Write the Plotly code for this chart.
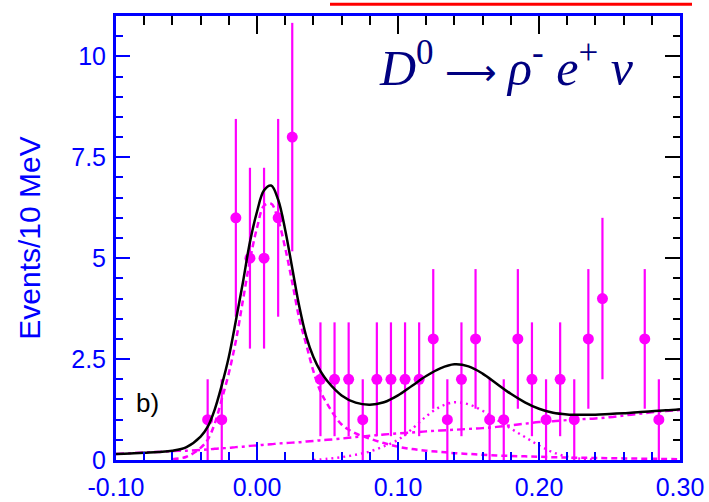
import plotly.graph_objects as go

# ---- data ----
bin_centers = [-0.035, -0.025, -0.015, -0.005, 0.005, 0.015, 0.025, 0.045, 0.055, 0.065,
               0.075, 0.085, 0.095, 0.105, 0.115, 0.125, 0.135, 0.145, 0.155, 0.165,
               0.175, 0.185, 0.195, 0.205, 0.215, 0.225, 0.235, 0.245, 0.275, 0.285]
counts = [1, 1, 6, 5, 5, 6, 8, 2, 2, 2,
          1, 2, 2, 2, 2, 3, 1, 2, 3, 1,
          1, 3, 2, 1, 2, 1, 3, 4, 3, 1]
count_errors = [1.0, 1.0, 2.45, 2.24, 2.24, 2.45, 2.83, 1.41, 1.41, 1.41,
                1.0, 1.41, 1.41, 1.41, 1.41, 1.73, 1.0, 1.41, 1.73, 1.0,
                1.0, 1.73, 1.41, 1.0, 1.41, 1.0, 1.73, 2.0, 1.73, 1.0]

fit_x = [-0.10, -0.09, -0.08, -0.07, -0.06, -0.05, -0.04, -0.035, -0.03, -0.025,
         -0.02, -0.015, -0.01, -0.005, 0.0, 0.005, 0.01, 0.015, 0.02, 0.025,
         0.03, 0.035, 0.04, 0.045, 0.05, 0.06, 0.07, 0.08, 0.09, 0.10,
         0.11, 0.12, 0.13, 0.14, 0.15, 0.16, 0.17, 0.18, 0.19, 0.20,
         0.21, 0.22, 0.23, 0.24, 0.25, 0.26, 0.27, 0.28, 0.29, 0.30]
fit_total = [0.15, 0.16, 0.18, 0.20, 0.23, 0.32, 0.58, 0.82, 1.25, 1.85,
             2.55, 3.45, 4.40, 5.40, 6.15, 6.68, 6.80, 6.45, 5.70, 4.75,
             3.80, 3.05, 2.55, 2.20, 1.95, 1.60, 1.42, 1.37, 1.43, 1.60,
             1.84, 2.08, 2.27, 2.37, 2.32, 2.14, 1.89, 1.64, 1.43, 1.27,
             1.17, 1.13, 1.12, 1.12, 1.14, 1.16, 1.18, 1.21, 1.23, 1.26]
fit_background = [0.15, 0.17, 0.19, 0.20, 0.22, 0.23, 0.25, 0.26, 0.28, 0.29,
                  0.30, 0.32, 0.33, 0.35, 0.36, 0.38, 0.39, 0.41, 0.42, 0.43,
                  0.44, 0.46, 0.47, 0.49, 0.50, 0.53, 0.57, 0.60, 0.63, 0.66,
                  0.68, 0.71, 0.73, 0.75, 0.77, 0.79, 0.82, 0.86, 0.90, 0.94,
                  0.96, 0.99, 1.01, 1.03, 1.06, 1.10, 1.14, 1.18, 1.21, 1.24]

signal_x = [-0.06, -0.05, -0.04, -0.035, -0.03, -0.025, -0.02, -0.015, -0.01, -0.005,
            0.0, 0.005, 0.01, 0.015, 0.02, 0.025, 0.03, 0.035, 0.04, 0.045,
            0.05, 0.06, 0.07, 0.08, 0.09, 0.10, 0.11, 0.12, 0.13, 0.14,
            0.15, 0.16, 0.17, 0.18, 0.19, 0.20, 0.22, 0.24, 0.26, 0.28, 0.30]
signal_y = [0.02, 0.08, 0.30, 0.50, 0.90, 1.50, 2.15, 2.95, 3.95, 4.95,
            5.75, 6.30, 6.35, 5.95, 5.25, 4.40, 3.50, 2.85, 2.20, 1.70,
            1.38, 0.88, 0.66, 0.53, 0.42, 0.33, 0.27, 0.23, 0.20, 0.17,
            0.15, 0.13, 0.11, 0.10, 0.09, 0.08, 0.06, 0.05, 0.04, 0.03, 0.02]

peak2_x = [0.04, 0.05, 0.06, 0.07, 0.08, 0.09, 0.10, 0.11, 0.12, 0.13, 0.14,
           0.15, 0.16, 0.17, 0.18, 0.19, 0.20, 0.21, 0.22, 0.23, 0.24]
peak2_y = [0.0, 0.03, 0.07, 0.13, 0.21, 0.34, 0.50, 0.77, 1.08, 1.32, 1.43,
           1.38, 1.22, 1.00, 0.78, 0.57, 0.36, 0.19, 0.08, 0.03, 0.01]

x_tickvals = [-0.10, 0.00, 0.10, 0.20, 0.30]
x_ticktext = ["-0.10", "0.00", "0.10", "0.20", "0.30"]
y_tickvals = [0, 2.5, 5, 7.5, 10]
y_ticktext = ["0", "2.5", "5", "7.5", "10"]

MAG = "#ff00ff"
BLUE = "#0000ff"

fig = go.Figure()

fig.add_trace(go.Scatter(
    x=bin_centers, y=counts, mode="markers",
    marker=dict(color=MAG, size=11, symbol="circle"),
    error_y=dict(type="data", array=count_errors, visible=True,
                 color=MAG, thickness=2.2, width=0),
    hoverinfo="skip", showlegend=False))

fig.add_trace(go.Scatter(x=fit_x, y=fit_background, mode="lines",
                         line=dict(color=MAG, width=2.4, dash="8px,4px,3px,4px", shape="spline"),
                         hoverinfo="skip", showlegend=False))
fig.add_trace(go.Scatter(x=peak2_x, y=peak2_y, mode="lines",
                         line=dict(color=MAG, width=2.4, dash="2px,4px", shape="spline"),
                         hoverinfo="skip", showlegend=False))
fig.add_trace(go.Scatter(x=signal_x, y=signal_y, mode="lines",
                         line=dict(color=MAG, width=2.5, dash="6px,4px", shape="spline"),
                         hoverinfo="skip", showlegend=False))
fig.add_trace(go.Scatter(x=fit_x, y=fit_total, mode="lines",
                         line=dict(color="black", width=2.5, shape="spline"),
                         hoverinfo="skip", showlegend=False))

# dummy trace to carry the mirrored (top/right) axes
fig.add_trace(go.Scatter(x=[None], y=[None], xaxis="x2", yaxis="y2",
                         mode="markers", hoverinfo="skip", showlegend=False))

tickfont = dict(family="Liberation Sans, Arial, sans-serif", size=25, color=BLUE)

fig.update_layout(
    width=709, height=502,
    margin=dict(l=116, r=29, t=16, b=42),
    paper_bgcolor="white", plot_bgcolor="white",
    showlegend=False,
    xaxis=dict(range=[-0.1, 0.3], showgrid=False, zeroline=False, automargin=False,
               showline=True, linecolor=BLUE, linewidth=3, mirror=True,
               tickmode="array", tickvals=x_tickvals, ticktext=x_ticktext,
               ticks="inside", ticklen=18, tickwidth=2, tickcolor=BLUE,
               tickfont=tickfont, ticklabelstandoff=3,
               minor=dict(dtick=0.02, tick0=0, ticks="inside", ticklen=8,
                          tickwidth=2, tickcolor=BLUE, showgrid=False)),
    yaxis=dict(range=[0, 11], showgrid=False, zeroline=False, automargin=False,
               showline=True, linecolor=BLUE, linewidth=3, mirror=True,
               tickmode="array", tickvals=y_tickvals, ticktext=y_ticktext,
               ticks="inside", ticklen=14, tickwidth=2, tickcolor=BLUE,
               tickfont=tickfont, ticklabelstandoff=2,
               minor=dict(dtick=0.5, tick0=0, ticks="inside", ticklen=7,
                          tickwidth=2, tickcolor=BLUE, showgrid=False),
               title=dict(text="Events/10 MeV", standoff=22,
                          font=dict(family="Liberation Sans, Arial, sans-serif",
                                    size=30, color=BLUE))),
    xaxis2=dict(range=[-0.1, 0.3], overlaying="x", side="top", anchor="y",
                automargin=False,
                showgrid=False, zeroline=False, showline=False,
                showticklabels=False, tickmode="linear", tick0=0, dtick=0.1,
                ticks="inside", ticklen=18, tickwidth=2, tickcolor="black",
                minor=dict(dtick=0.02, tick0=0, ticks="inside", ticklen=9,
                           tickwidth=2, tickcolor="black", showgrid=False)),
    yaxis2=dict(range=[0, 11], overlaying="y", side="right", anchor="x",
                automargin=False,
                showgrid=False, zeroline=False, showline=False,
                showticklabels=False, tickmode="linear", tick0=0, dtick=2.5,
                ticks="inside", ticklen=15, tickwidth=2, tickcolor="black",
                minor=dict(dtick=0.5, tick0=0, ticks="inside", ticklen=7,
                           tickwidth=2, tickcolor="black", showgrid=False)),
)

fig.add_annotation(
    text=("<i>D</i><sup>0</sup>"
          "<span style='font-family:DejaVu Sans;font-size:36px'> ⟶ </span>"
          "<i>ρ</i><sup>-</sup> <i>e</i><sup>+</sup> <i>ν</i>"),
    xref="paper", yref="paper", x=(377 - 116) / 564, y=(459.3 - 85) / 444,
    xanchor="left", yanchor="bottom", yshift=-12, showarrow=False,
    font=dict(family="Liberation Serif, Times New Roman, serif", size=50, color="#000080"))

fig.add_annotation(
    text="b)", xref="paper", yref="paper", x=(134 - 116) / 564, y=(459.3 - 402) / 444,
    xanchor="left", yanchor="middle", showarrow=False,
    font=dict(family="Liberation Sans, Arial, sans-serif", size=26, color="black"))

fig.add_shape(type="line", xref="paper", yref="paper",
              x0=(330 - 116) / 564, x1=(692 - 116) / 564,
              y0=(459.3 - 3.5) / 444, y1=(459.3 - 3.5) / 444,
              line=dict(color="red", width=3))

fig.write_html("out.html")
